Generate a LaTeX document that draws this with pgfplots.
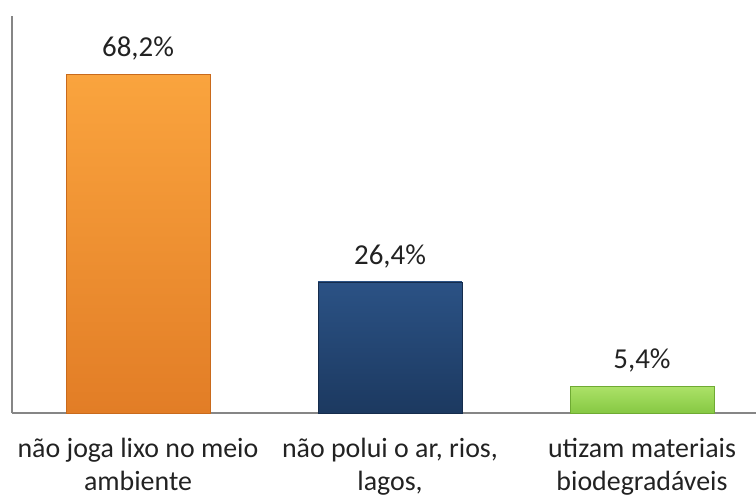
\documentclass[border=0pt]{standalone}
\usepackage{fontspec}
\setmainfont{Carlito}
\usepackage{pgfplots}
\pgfplotsset{compat=1.18}

\definecolor{orangeT}{HTML}{FAA43E}
\definecolor{orangeB}{HTML}{E27D26}
\definecolor{orangeD}{HTML}{C96A1C}
\definecolor{blueT}{HTML}{2B5285}
\definecolor{blueB}{HTML}{1C3960}
\definecolor{blueD}{HTML}{152C4C}
\definecolor{greenT}{HTML}{ACE268}
\definecolor{greenB}{HTML}{86C843}
\definecolor{greenD}{HTML}{6FAA33}
\definecolor{axisgray}{HTML}{868686}
\definecolor{txt}{HTML}{222222}

\begin{document}
\begin{tikzpicture}
\begin{axis}[
    at={(0,0)}, anchor=south west,
    scale only axis,
    width=378bp, height=198.5bp,
    xmin=-0.5, xmax=2.5,
    ymin=0, ymax=80,
    ybar, bar width=0.571, bar shift=0pt,
    axis lines=left,
    axis line style={-, draw=axisgray, line width=0.8bp},
    ytick=\empty,
    xtick={0,1,2},
    major tick length=0pt,
    xticklabels={{não joga lixo no meio\\ambiente},{não polui o ar, rios,\\lagos,},{utizam materiais\\biodegradáveis}},
    xticklabel style={align=center, text=txt, font=\fontsize{14}{16.5}\selectfont, yshift=-9bp},
    /pgf/number format/.cd, use comma, fixed, fixed zerofill, precision=1, assume math mode=true,
    /pgfplots/.cd,
    nodes near coords={\pgfmathprintnumber{\pgfplotspointmeta}\%},
    nodes near coords style={text=txt, font=\fontsize{14.5}{17}\selectfont, yshift=3.5bp},
]
\addplot[top color=orangeT, bottom color=orangeB, draw=orangeD, line width=0.4bp] coordinates {(0,68.2)};
\addplot[top color=blueT, bottom color=blueB, draw=blueD, line width=0.4bp] coordinates {(1,26.4)};
\addplot[top color=greenT, bottom color=greenB, draw=greenD, line width=0.4bp] coordinates {(2,5.4)};
\end{axis}
\pgfresetboundingbox
\useasboundingbox (-6bp,-41bp) rectangle (372bp,206.5bp);
\end{tikzpicture}
\end{document}
